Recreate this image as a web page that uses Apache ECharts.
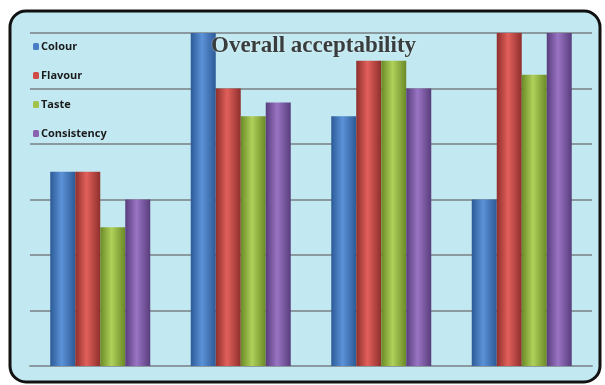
<!DOCTYPE html>
<html>
<head>
    <meta charset="utf-8">
    <title>Overall acceptability</title>
    <script src="https://cdn.jsdelivr.net/npm/echarts@6/dist/echarts.min.js"></script>
</head>
<body style="margin:0;background:#fff;">
<div id="chart" style="width:605px;height:385px;"></div>
<script>
    // samples (no axis labels in the original)
    var samples = ['A', 'B', 'C', 'D'];
    var colour = [3.5, 6, 4.5, 3];
    var flavour = [3.5, 5, 5.5, 6];
    var taste = [2.5, 4.5, 5.5, 5.25];
    var consistency = [3, 4.75, 5, 6];

    // edge / middle / edge shades for the cylinder look
    function tube(dark, mid) {
        return new echarts.graphic.LinearGradient(0, 0, 1, 0, [
            {offset: 0, color: dark},
            {offset: 0.45, color: mid},
            {offset: 1, color: dark}
        ]);
    }

    var chart = echarts.init(document.getElementById('chart'));
    var option = {
        backgroundColor: '#ffffff',
        animation: false,
        graphic: [{
            type: 'rect',
            z: -10,
            shape: {x: 10, y: 11, width: 590, height: 371, r: 16},
            style: {fill: '#c2e9f1', stroke: '#111', lineWidth: 3}
        }],
        title: {
            text: 'Overall acceptability',
            left: 206,
            top: 30,
            textStyle: {
                fontFamily: 'Liberation Serif',
                fontWeight: 'bold',
                fontSize: 23,
                color: '#3a3d3e',
                textShadowColor: 'rgba(255,255,255,0.6)',
                textShadowBlur: 2
            }
        },
        legend: {
            orient: 'vertical',
            left: 28,
            top: 36,
            itemGap: 18,
            itemWidth: 6,
            itemHeight: 7,
            textStyle: {fontFamily: 'Open Sans', fontWeight: 'bold', fontSize: 11, color: '#1b1b1b', padding: [0, 0, 0, -3]},
            data: [
                {name: 'Colour', itemStyle: {color: '#4a7ec4'}},
                {name: 'Flavour', itemStyle: {color: '#d04a46'}},
                {name: 'Taste', itemStyle: {color: '#a3c24a'}},
                {name: 'Consistency', itemStyle: {color: '#8a63b0'}}
            ]
        },
        grid: {left: 30, right: 13, top: 33, bottom: 19},
        xAxis: {
            type: 'category',
            data: samples,
            axisLine: {lineStyle: {color: '#8a9a9e', width: 2}},
            axisTick: {show: false},
            axisLabel: {show: false}
        },
        yAxis: {
            type: 'value',
            min: 0,
            max: 6,
            interval: 1,
            axisLabel: {show: false},
            splitLine: {lineStyle: {color: '#8a9a9e', width: 2}}
        },
        series: [
            {name: 'Colour', type: 'bar', barWidth: 25, barGap: 0, data: colour,
                itemStyle: {color: tube('#2d5a96', '#5b92d8')}},
            {name: 'Flavour', type: 'bar', barWidth: 25, barGap: 0, data: flavour,
                itemStyle: {color: tube('#8e2f2c', '#e2605b')}},
            {name: 'Taste', type: 'bar', barWidth: 25, barGap: 0, data: taste,
                itemStyle: {color: tube('#6a8a26', '#b0d15a')}},
            {name: 'Consistency', type: 'bar', barWidth: 25, barGap: 0, data: consistency,
                itemStyle: {color: tube('#583d7c', '#9a74c4')}}
        ]
    };
    chart.setOption(option);
</script>
</body>
</html>
